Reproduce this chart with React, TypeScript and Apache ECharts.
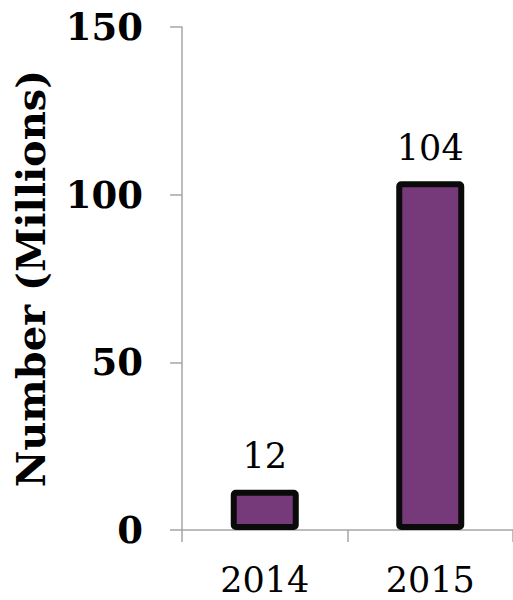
import React, { useEffect, useRef } from "react";
import * as echarts from "echarts";

const categories = ["2014", "2015"];
const values = [12, 104];
const yTicks = { min: 0, max: 150, interval: 50 };
const axisName = "Number (Millions)";

export default function App() {
  const ref = useRef<HTMLDivElement>(null);
  useEffect(() => {
    if (!ref.current) return;
    const chart = echarts.init(ref.current, undefined, { renderer: "svg" });
    const font = "'DejaVu Serif', serif";
    chart.setOption({
      animation: false,
      backgroundColor: "#ffffff",
      grid: { left: 182, right: -1, top: 27, bottom: 70, containLabel: false },
      xAxis: {
        type: "category",
        data: categories,
        axisLine: { lineStyle: { color: "#a6a6a6", width: 1.5 } },
        axisTick: { show: true, length: 12, lineStyle: { color: "#a6a6a6", width: 1.5 } },
        axisLabel: { color: "#000", fontFamily: font, fontSize: 35, margin: 32 },
      },
      yAxis: {
        type: "value",
        min: yTicks.min,
        max: yTicks.max,
        interval: yTicks.interval,
        name: axisName,
        nameLocation: "middle",
        nameRotate: 90,
        nameGap: 132,
        nameTextStyle: { color: "#000", fontFamily: font, fontWeight: "bold", fontSize: 40 },
        axisLine: { show: true, lineStyle: { color: "#a6a6a6", width: 1.5 } },
        axisTick: { show: true, length: 12, lineStyle: { color: "#a6a6a6", width: 1.5 } },
        splitLine: { show: false },
        axisLabel: { color: "#000", fontFamily: font, fontWeight: "bold", fontSize: 37, margin: 39 },
      },
      series: [
        {
          type: "bar",
          data: values,
          barWidth: 68,
          itemStyle: { color: "#763a7a", borderColor: "#0a0a0a", borderWidth: 6, borderRadius: 2 },
          label: {
            show: true,
            position: "top",
            distance: 16,
            color: "#000",
            fontFamily: font,
            fontSize: 35,
          },
        },
      ],
    });
    return () => chart.dispose();
  }, []);
  return (
    <div
      ref={ref}
      style={{ position: "absolute", left: 0, top: 0, width: 513, height: 600 }}
    />
  );
}
